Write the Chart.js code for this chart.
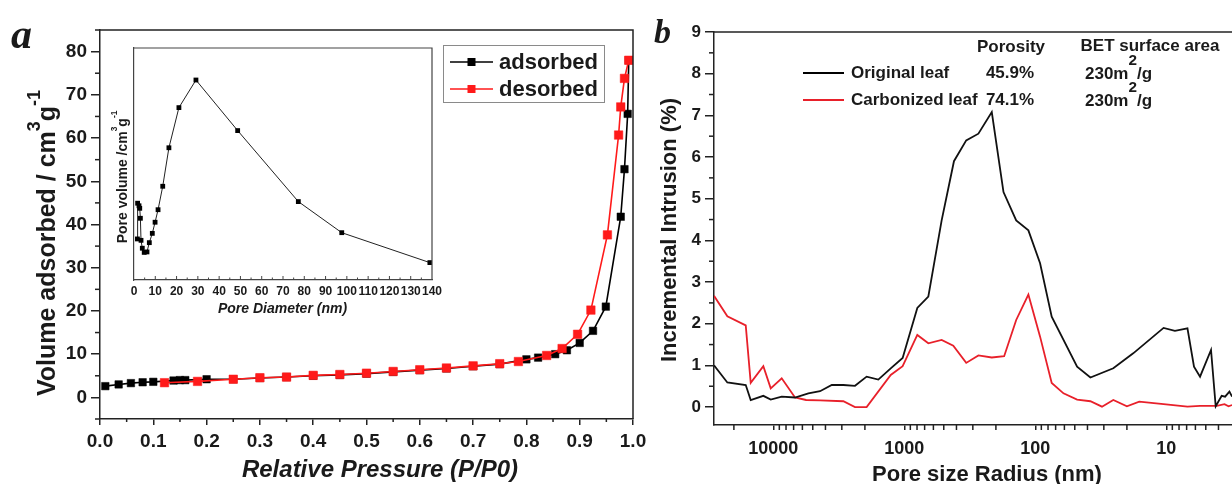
<!DOCTYPE html>
<html><head><meta charset="utf-8">
<script src="https://cdn.jsdelivr.net/npm/chart.js@4.4.1/dist/chart.umd.min.js"></script>
<style>
html,body{margin:0;padding:0;background:#fff;width:1232px;height:484px;overflow:hidden;position:relative}
canvas{position:absolute;display:block}
#ca{left:0;top:0}
#cb{left:640px;top:0}
#ci{left:100px;top:40px}
</style></head><body>
<canvas id="ca" width="660" height="484"></canvas>
<canvas id="cb" width="600" height="484"></canvas>
<canvas id="ci" width="345" height="280"></canvas>
<script>
// ---------- Panel a: isotherm ----------
const adsorbedP = [0.01,0.035,0.058,0.08,0.1,0.138,0.15,0.16,0.2,0.25,0.3,0.35,0.4,0.45,0.5,0.55,0.6,0.65,0.7,0.75,0.8,0.822,0.854,0.876,0.9,0.925,0.949,0.977,0.984,0.99,0.992];
const adsorbedV = [2.6,3.0,3.3,3.5,3.6,3.9,4.0,4.0,4.2,4.2,4.5,4.7,5.0,5.2,5.5,5.9,6.3,6.7,7.2,7.7,8.8,9.2,10.0,10.9,12.6,15.4,21.0,41.8,52.8,65.6,78.0];
const desorbedP = [0.992,0.984,0.977,0.973,0.952,0.921,0.896,0.867,0.838,0.785,0.75,0.7,0.65,0.6,0.55,0.5,0.45,0.4,0.35,0.3,0.25,0.183,0.121];
const desorbedV = [78.0,73.8,67.2,60.7,37.6,20.2,14.6,11.3,9.7,8.3,7.8,7.3,6.8,6.4,6.0,5.6,5.3,5.1,4.7,4.55,4.2,3.7,3.4];
const pressureTicks = [0,0.1,0.2,0.3,0.4,0.5,0.6,0.7,0.8,0.9,1.0];
const volumeTicks = [0,10,20,30,40,50,60,70,80];

// ---------- Inset: pore size distribution ----------
const poreDiameter = [1.6,1.7,2.35,2.7,3.0,3.3,3.9,4.8,6.1,7.2,8.6,9.9,11.3,13.5,16.4,21.1,29.1,48.7,77.2,97.6,139];
const poreVolume = [0.177,0.331,0.320,0.309,0.266,0.171,0.137,0.119,0.121,0.161,0.201,0.249,0.303,0.404,0.570,0.743,0.862,0.644,0.338,0.204,0.075];
const diameterTicks = [0,10,20,30,40,50,60,70,80,90,100,110,120,130,140];

// ---------- Panel b: mercury intrusion ----------
const radiusOriginal = [28370,22440,16240,14880,11920,10470,8630,6830,5400,4400,3580,2920,2380,1940,1580,1270,1030,796,656,519,418,337,272,215,175,140,113,92,75,48,38,25.4,17.9,10.5,8.6,6.9,6.15,5.53,4.56,4.2,3.78,3.56,3.3,3.15];
const intrusionOriginal = [1.0,0.59,0.53,0.17,0.27,0.18,0.25,0.23,0.33,0.38,0.53,0.53,0.51,0.73,0.66,0.93,1.18,2.38,2.65,4.48,5.9,6.4,6.56,7.08,5.16,4.48,4.24,3.45,2.17,0.97,0.71,0.93,1.29,1.90,1.83,1.89,0.97,0.73,1.37,0.02,0.27,0.25,0.37,0.25];
const radiusCarbon = [28370,22440,16240,14880,11920,10470,8630,6830,5620,4400,2920,2380,1940,1270,1030,796,656,519,423,337,272,215,173,140,113,92,75,61,48,38,31,25.4,20,16.1,10.5,6.9,5.53,4.12,3.6,3.35,3.15];
const intrusionCarbon = [2.67,2.18,1.96,0.58,0.98,0.45,0.69,0.23,0.17,0.16,0.14,0.0,0.0,0.77,0.98,1.73,1.53,1.61,1.47,1.06,1.24,1.19,1.22,2.09,2.70,1.69,0.58,0.33,0.18,0.14,0.01,0.17,0.02,0.13,0.07,0.01,0.03,0.03,0.07,0.02,0.05];
const radiusTicks = [10000,1000,100,10];
const intrusionTicks = [0,1,2,3,4,5,6,7,8,9];
const seriesNamesB = ['Original leaf','Carbonized leaf'];
const porosity = ['45.9%','74.1%'];
const betArea = ['230m','230m'];

const SANS = '"Liberation Sans", Arial, Helvetica, sans-serif';
const SERIF = '"Liberation Serif", "Times New Roman", serif';
const INK = '#1a1a1a';
Chart.defaults.font.family = SANS;
Chart.defaults.color = INK;

function drawRich(ctx, parts, size, style, x, y, rot, align, supScale, raise) {
  ctx.save();
  ctx.translate(x, y);
  ctx.rotate(rot);
  ctx.fillStyle = INK;
  ctx.textAlign = 'left';
  ctx.textBaseline = 'alphabetic';
  let total = 0;
  const ws = parts.map(([t, s]) => {
    ctx.font = `${style} ${s ? size * supScale : size}px ${SANS}`;
    const w = ctx.measureText(t).width; total += w; return w;
  });
  let cx = align === 'center' ? -total / 2 : 0;
  parts.forEach(([t, s], i) => {
    ctx.font = `${style} ${s ? size * supScale : size}px ${SANS}`;
    ctx.fillText(t, cx, s ? -size * raise : 0);
    cx += ws[i];
  });
  ctx.restore();
}
function line(ctx, x1, y1, x2, y2) { ctx.beginPath(); ctx.moveTo(x1, y1); ctx.lineTo(x2, y2); ctx.stroke(); }
const tickList = a => a.map(v => ({ value: v }));

// ================= Panel a =================
const decorA = {
  id: 'decorA',
  afterDraw(chart) {
    const ctx = chart.ctx, ca = chart.chartArea, xs = chart.scales.x, ys = chart.scales.y;
    ctx.save();
    ctx.strokeStyle = '#222'; ctx.lineWidth = 1.5;
    ctx.beginPath(); ctx.moveTo(ca.left, ca.top); ctx.lineTo(ca.right, ca.top); ctx.lineTo(ca.right, ca.bottom); ctx.stroke();
    // minor ticks
    for (let v = -5; v <= 85; v += 10) { const p = ys.getPixelForValue(v); line(ctx, ca.left - 5, p, ca.left, p); }
    for (let i = 0; i < 10; i++) { const p = xs.getPixelForValue(0.05 + i * 0.1); line(ctx, p, ca.bottom, p, ca.bottom + 3); }
    // axis titles
    drawRich(ctx, [['Volume adsorbed / cm', 0], ['3', 1], ['g', 0], ['-1', 1]], 25, 'bold', 55, 243, -Math.PI / 2, 'center', 0.72, 0.62);
    ctx.fillStyle = INK; ctx.font = `italic bold 24px ${SANS}`; ctx.textAlign = 'center'; ctx.textBaseline = 'middle';
    ctx.fillText('Relative Pressure (P/P0)', 380, 470);
    // panel letter
    ctx.font = `italic bold 42px ${SERIF}`; ctx.textAlign = 'left'; ctx.textBaseline = 'alphabetic';
    ctx.fillText('a', 11, 48);
    // legend
    ctx.strokeStyle = '#8a8a8a'; ctx.lineWidth = 1;
    ctx.strokeRect(443.5, 45.5, 161, 57);
    const rows = [['adsorbed', '#000', 62], ['desorbed', '#ff1a1a', 89]];
    rows.forEach(([t, c, y]) => {
      ctx.strokeStyle = c; ctx.lineWidth = 1.6; line(ctx, 450, y, 493, y);
      ctx.fillStyle = c; ctx.fillRect(467.5, y - 4, 8, 8);
      ctx.fillStyle = INK; ctx.font = `bold 22px ${SANS}`; ctx.textBaseline = 'middle';
      ctx.fillText(t, 499, y + 1);
    });
    ctx.restore();
  }
};

new Chart(document.getElementById('ca'), {
  type: 'line',
  data: {
    datasets: [
      { label: 'desorbed', data: desorbedP.map((x, i) => ({ x, y: desorbedV[i] })), borderColor: '#ff1a1a', backgroundColor: '#ff1a1a',
        pointBackgroundColor: '#ff1a1a', pointBorderColor: '#ff1a1a', pointStyle: 'rect', pointRadius: 6, pointBorderWidth: 0.5, borderWidth: 1.6, tension: 0, order: 0 },
      { label: 'adsorbed', data: adsorbedP.map((x, i) => ({ x, y: adsorbedV[i] })), borderColor: '#000', backgroundColor: '#000',
        pointBackgroundColor: '#000', pointBorderColor: '#000', pointStyle: 'rect', pointRadius: 5.3, pointBorderWidth: 0.5, borderWidth: 1.6, tension: 0, order: 1 }
    ]
  },
  options: {
    responsive: false, animation: false, devicePixelRatio: 1,
    layout: { padding: { top: 30, right: 27, left: 0, bottom: 0 } },
    plugins: { legend: { display: false }, tooltip: { enabled: false } },
    scales: {
      x: { type: 'linear', min: 0, max: 1,
        afterBuildTicks: s => { s.ticks = tickList(pressureTicks); },
        afterFit: s => { s.height = 65; s.paddingLeft = 0; s.paddingRight = 0; },
        ticks: { callback: v => Number(v).toFixed(1), font: { size: 19, weight: 'bold' }, color: INK, padding: 5, maxRotation: 0, autoSkip: false },
        grid: { drawOnChartArea: false, tickLength: 6, color: '#222', lineWidth: 1.5 },
        border: { color: '#222', width: 1.5 } },
      y: { type: 'linear', min: -5, max: 85,
        afterBuildTicks: s => { s.ticks = tickList(volumeTicks); },
        afterFit: s => { s.width = 100; s.paddingTop = 0; s.paddingBottom = 0; },
        ticks: { font: { size: 19, weight: 'bold' }, color: INK, padding: 4, autoSkip: false },
        grid: { drawOnChartArea: false, tickLength: 9, color: '#222', lineWidth: 1.5 },
        border: { color: '#222', width: 1.5 } }
    }
  },
  plugins: [decorA]
});

// ================= Inset =================
const decorInset = {
  id: 'decorInset',
  beforeDraw(chart) {
    const ctx = chart.ctx, ca = chart.chartArea;
    ctx.save(); ctx.fillStyle = '#fff'; ctx.fillRect(ca.left, ca.top, ca.right - ca.left, ca.bottom - ca.top); ctx.restore();
  },
  afterDraw(chart) {
    const ctx = chart.ctx, ca = chart.chartArea, xs = chart.scales.x;
    ctx.save();
    ctx.strokeStyle = '#444'; ctx.lineWidth = 1.2;
    ctx.beginPath(); ctx.moveTo(ca.left, ca.top); ctx.lineTo(ca.right, ca.top); ctx.lineTo(ca.right, ca.bottom); ctx.stroke();
    ctx.lineWidth = 1;
    for (let v = 5; v < 140; v += 5) { const p = xs.getPixelForValue(v); line(ctx, p, ca.bottom, p, ca.bottom - (v % 10 === 0 ? 4 : 2.5)); }
    drawRich(ctx, [['Pore volume /cm', 0], ['3', 1], ['g', 0], ['-1', 1]], 14, 'bold', 27, 137, -Math.PI / 2, 'center', 0.6, 0.7);
    ctx.fillStyle = INK; ctx.font = `italic bold 14px ${SANS}`; ctx.textAlign = 'center'; ctx.textBaseline = 'middle';
    ctx.fillText('Pore Diameter (nm)', 182.5, 269);
    ctx.restore();
  }
};

new Chart(document.getElementById('ci'), {
  type: 'line',
  data: { datasets: [{ label: 'pore', data: poreDiameter.map((x, i) => ({ x, y: poreVolume[i] })), borderColor: '#222', backgroundColor: '#000',
    pointBackgroundColor: '#000', pointBorderColor: '#000', pointStyle: 'rect', pointRadius: 3.4, pointBorderWidth: 0, borderWidth: 1, tension: 0 }] },
  options: {
    responsive: false, animation: false, devicePixelRatio: 1,
    layout: { padding: { top: 8, right: 13, left: 0, bottom: 0 } },
    plugins: { legend: { display: false }, tooltip: { enabled: false } },
    scales: {
      x: { type: 'linear', min: 0, max: 140,
        afterBuildTicks: s => { s.ticks = tickList(diameterTicks); },
        afterFit: s => { s.height = 40; s.paddingLeft = 0; s.paddingRight = 0; },
        ticks: { font: { size: 12, weight: 'bold' }, color: INK, padding: 4, maxRotation: 0, autoSkip: false },
        grid: { display: false, drawTicks: false },
        border: { color: '#444', width: 1.2 } },
      y: { type: 'linear', min: 0, max: 1,
        afterFit: s => { s.width = 34; s.paddingTop = 0; s.paddingBottom = 0; },
        ticks: { display: false },
        grid: { display: false, drawTicks: false },
        border: { color: '#444', width: 1.2 } }
    }
  },
  plugins: [decorInset]
});

// ================= Panel b =================
const RED_B = '#e8202a';
const decorB = {
  id: 'decorB',
  afterDraw(chart) {
    const ctx = chart.ctx, ca = chart.chartArea, xs = chart.scales.x, ys = chart.scales.y;
    ctx.save();
    ctx.strokeStyle = '#222'; ctx.lineWidth = 1.5;
    line(ctx, ca.left, ca.top, ca.right, ca.top);
    for (let v = 0.5; v < 9; v += 1) { const p = ys.getPixelForValue(v); line(ctx, ca.left - 5, p, ca.left, p); }
    for (const d of [1, 10, 100, 1000, 10000]) {
      for (let m = 2; m <= 9; m++) {
        const v = m * d;
        if (v < xs.min || v > xs.max) continue;
        const p = xs.getPixelForValue(v); line(ctx, p, ca.bottom, p, ca.bottom + 5);
      }
    }
    // titles
    drawRich(ctx, [['Incremental Intrusion (%)', 0]], 22, 'bold', 36, 230, -Math.PI / 2, 'center', 1, 0);
    ctx.fillStyle = INK; ctx.font = `bold 22px ${SANS}`; ctx.textAlign = 'center'; ctx.textBaseline = 'middle';
    ctx.fillText('Pore size Radius (nm)', 347, 475);
    ctx.font = `italic bold 34px ${SERIF}`; ctx.textAlign = 'left'; ctx.textBaseline = 'alphabetic';
    ctx.fillText('b', 14, 43);
    // legend table
    ctx.font = `bold 17px ${SANS}`; ctx.textBaseline = 'middle'; ctx.textAlign = 'center';
    ctx.fillText('Porosity', 371, 47);
    ctx.fillText('BET surface area', 510, 46);
    const rowsY = [73, 100], cols = ['#000', RED_B];
    rowsY.forEach((y, i) => {
      ctx.strokeStyle = cols[i]; ctx.lineWidth = 2; line(ctx, 163, y, 204, y);
      ctx.fillStyle = INK; ctx.font = `bold 17px ${SANS}`; ctx.textBaseline = 'middle';
      ctx.textAlign = 'left'; ctx.fillText(seriesNamesB[i], 211, y);
      ctx.textAlign = 'center'; ctx.fillText(porosity[i], 370, y);
      drawRich(ctx, [[betArea[i], 0], ['2', 1], ['/g', 0]], 17, 'bold', 445, y + 6, 0, 'left', 0.9, 0.8);
    });
    ctx.restore();
  }
};

new Chart(document.getElementById('cb'), {
  type: 'line',
  data: {
    datasets: [
      { label: seriesNamesB[0], data: radiusOriginal.map((x, i) => ({ x, y: intrusionOriginal[i] })), borderColor: '#111', borderWidth: 1.8, pointRadius: 0, tension: 0 },
      { label: seriesNamesB[1], data: radiusCarbon.map((x, i) => ({ x, y: intrusionCarbon[i] })), borderColor: RED_B, borderWidth: 1.8, pointRadius: 0, tension: 0 }
    ]
  },
  options: {
    responsive: false, animation: false, devicePixelRatio: 1,
    layout: { padding: { top: 32, right: 0, left: 0, bottom: 0 } },
    plugins: { legend: { display: false }, tooltip: { enabled: false } },
    scales: {
      x: { type: 'logarithmic', reverse: true, min: 2.74, max: 28370,
        afterBuildTicks: s => { s.ticks = tickList(radiusTicks); },
        afterFit: s => { s.height = 59; s.paddingLeft = 0; s.paddingRight = 0; },
        ticks: { callback: v => String(v), font: { size: 18, weight: 'bold' }, color: INK, padding: 8, maxRotation: 0, autoSkip: false },
        grid: { drawOnChartArea: false, tickLength: 5, color: '#222', lineWidth: 1.5 },
        border: { color: '#222', width: 1.5 } },
      y: { type: 'linear', min: -0.43, max: 9,
        afterBuildTicks: s => { s.ticks = tickList(intrusionTicks); },
        afterFit: s => { s.width = 74; s.paddingTop = 0; s.paddingBottom = 0; },
        ticks: { font: { size: 17, weight: 'bold' }, color: INK, padding: 4, autoSkip: false },
        grid: { drawOnChartArea: false, tickLength: 9, color: '#222', lineWidth: 1.5 },
        border: { color: '#222', width: 1.5 } }
    }
  },
  plugins: [decorB]
});
</script></body></html>
